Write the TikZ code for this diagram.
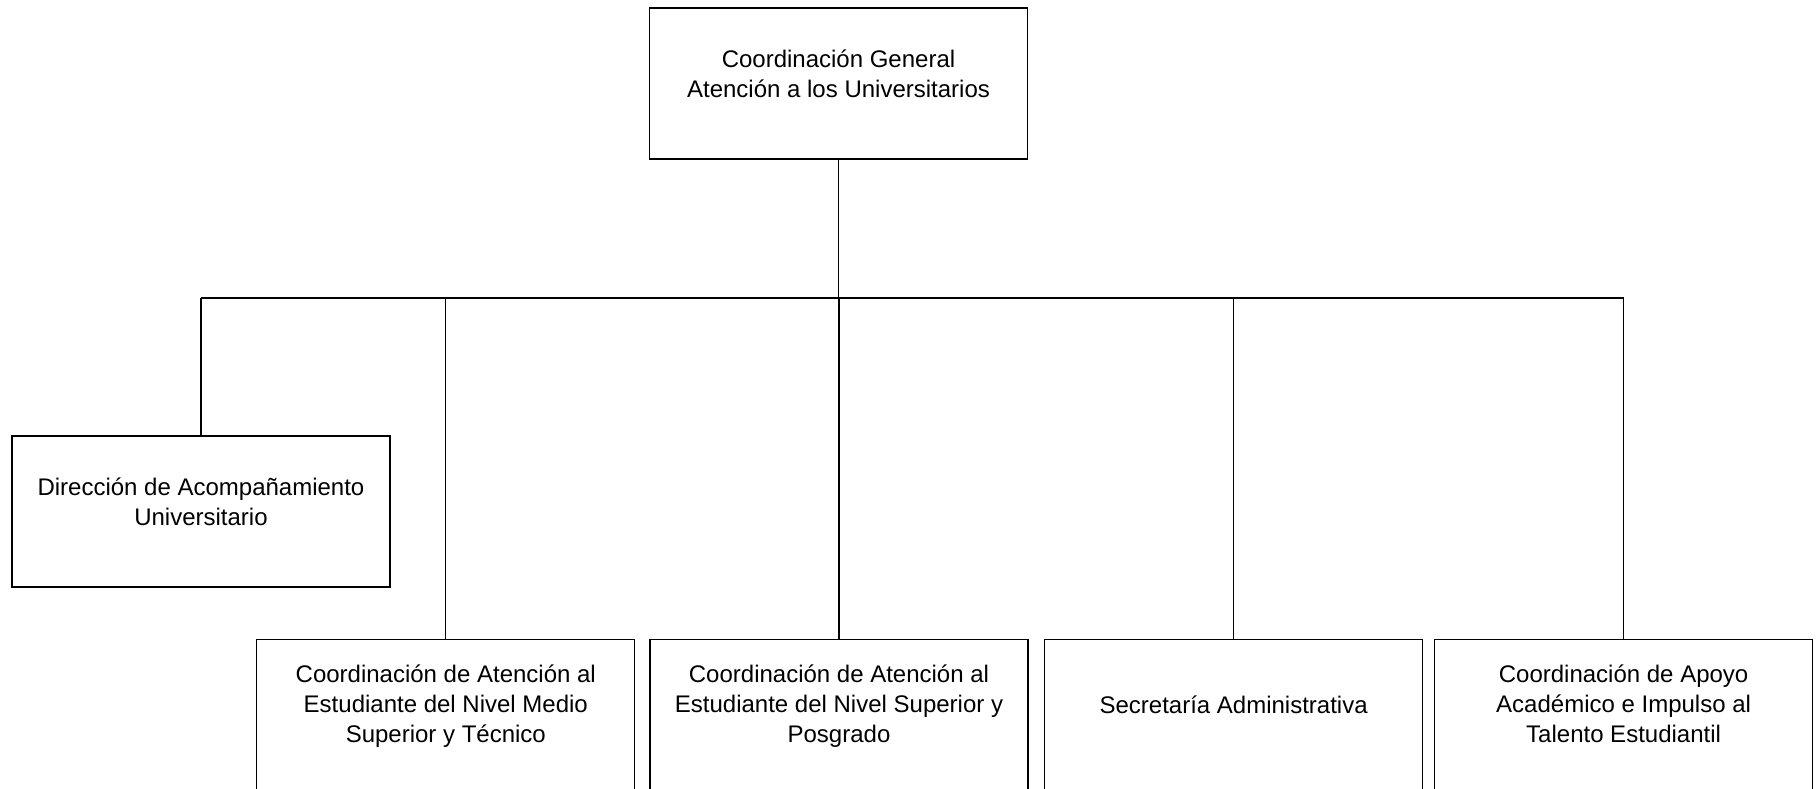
\documentclass[tikz,border=0pt]{standalone}
\usepackage{fontspec}
\setmainfont{Liberation Sans}

\begin{document}
\begin{tikzpicture}[x=0.5pt,y=-0.5pt,
  unitbox/.style={draw=black, line width=0.6pt, minimum width=189pt, minimum height=75.5pt, inner sep=0pt},
  unittext/.style={align=center, inner sep=0pt, font={\fontsize{12}{14.8}\selectfont},
    execute at begin node=\strut, execute at end node=\strut},
  link/.style={draw=black, line width=0.6pt}]
\useasboundingbox (0,0) rectangle (1820,788);
% boxes
\node[unitbox] (cg) at (838.5,83.5) {};
\node[unitbox] (dau) at (201,511.5) {};
\node[unitbox] (ems) at (445.8,715) {};
\node[unitbox] (esp) at (839,715) {};
\node[unitbox] (sa) at (1233.6,715) {};
\node[unitbox] (aai) at (1623.6,715) {};
% texts
\node[unittext] (cg-t) at ([yshift=2.8pt]cg.center) {Coordinación General\\Atención a los Universitarios};
\node[unittext] (dau-t) at ([yshift=2.8pt]dau.center) {Dirección de Acompañamiento\\Universitario};
\node[unittext] (ems-t) at ([yshift=3.5pt]ems.center) {Coordinación de Atención al\\Estudiante del Nivel Medio\\Superior y Técnico};
\node[unittext] (esp-t) at ([yshift=3.5pt]esp.center) {Coordinación de Atención al\\Estudiante del Nivel Superior y\\Posgrado};
\node[unittext] (sa-t) at ([yshift=3.5pt]sa.center) {Secretaría Administrativa};
\node[unittext] (aai-t) at ([yshift=3.5pt]aai.center) {Coordinación de Apoyo\\Académico e Impulso al\\Talento Estudiantil};
% connectors
\coordinate (bus) at (838.5,298);
\draw[link] (cg) -- (bus);
\draw[link] (bus -| dau.north) -- (bus -| aai.north);
\foreach \n in {dau,ems,esp,sa,aai}
  \draw[link] (bus -| \n.north) -- (\n.north);
\end{tikzpicture}
\end{document}
